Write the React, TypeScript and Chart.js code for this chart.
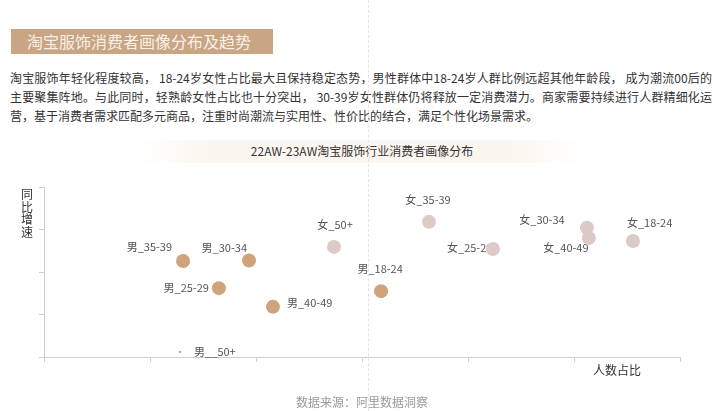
import React, { useEffect, useRef } from "react";
import { Chart, registerables } from "chart.js";

Chart.register(...registerables);

// ---- data ----
const maleLabels = ["男_35-39", "男_30-34", "男_25-29", "男__50+", "男_40-49", "男_18-24"];
const maleShare = [6.56, 9.67, 8.25, 6.42, 10.8, 15.9];
const maleGrowth = [22.6, 22.7, 16.2, 1.2, 11.8, 15.5];

const femaleLabels = ["女_50+", "女_35-39", "女_25-29", "女_30-34", "女_40-49", "女_18-24"];
const femaleShare = [13.68, 18.16, 21.18, 25.61, 25.7, 27.78];
const femaleGrowth = [25.9, 31.8, 25.4, 30.4, 28.0, 27.3];

const xTicks = { min: 0, max: 30, step: 5 };
const yTicks = { min: 0, max: 40, step: 10 };

const yAxisTitle = ["同", "比", "增", "速"];

// ---- label placement (style) ----
type Place = { align: CanvasTextAlign; dx: number; dy: number };
const malePlace: Place[] = [
  { align: "right", dx: -11, dy: -14 },
  { align: "right", dx: -2, dy: -13 },
  { align: "right", dx: -10, dy: 0 },
  { align: "left", dx: 14, dy: 0 },
  { align: "left", dx: 14, dy: -4 },
  { align: "center", dx: -1, dy: -22 },
];
const femalePlace: Place[] = [
  { align: "center", dx: 1, dy: -22 },
  { align: "center", dx: -1, dy: -22 },
  { align: "left", dx: -46, dy: -1 },
  { align: "center", dx: -45, dy: -8 },
  { align: "center", dx: -23, dy: 10 },
  { align: "left", dx: -6, dy: -18 },
];
const maleRadius = [7, 7, 7, 1.2, 7, 7];
const femaleRadius = [7, 7, 7, 7, 7, 7];

const FONT = '"Noto Sans CJK SC", "Noto Sans", sans-serif';

const labelPlugin = {
  id: "pointLabels",
  beforeDatasetsDraw(chart: any) {
    const ctx = chart.ctx;
    ctx.save();
    ctx.font = `11px ${FONT}`;
    ctx.fillStyle = "#555";
    ctx.textBaseline = "middle";
    const sets: [string[], Place[]][] = [
      [maleLabels, malePlace],
      [femaleLabels, femalePlace],
    ];
    sets.forEach(([labels, places], di) => {
      const meta = chart.getDatasetMeta(di);
      meta.data.forEach((pt: any, i: number) => {
        const p = places[i];
        ctx.textAlign = p.align;
        ctx.fillText(labels[i], pt.x + p.dx, pt.y + p.dy);
      });
    });
    ctx.restore();
  },
};

export default function App() {
  const ref = useRef<HTMLCanvasElement>(null);

  useEffect(() => {
    if (!ref.current) return;
    const axis = (t: { min: number; max: number; step: number }, fit: (s: any) => void) => ({
      type: "linear" as const,
      min: t.min,
      max: t.max,
      ticks: { stepSize: t.step, display: false },
      grid: { drawOnChartArea: false, drawTicks: true, tickLength: 5, color: "#cfcfcf" },
      border: { display: true, color: "#cfcfcf" },
      afterFit: fit,
    });
    const chart = new Chart(ref.current, {
      type: "scatter",
      data: {
        datasets: [
          {
            label: "男",
            data: maleShare.map((x, i) => ({ x, y: maleGrowth[i] })),
            backgroundColor: "#d0a47a",
            borderWidth: 0,
            pointRadius: maleRadius,
            pointHoverRadius: maleRadius,
          },
          {
            label: "女",
            data: femaleShare.map((x, i) => ({ x, y: femaleGrowth[i] })),
            backgroundColor: "#dccac7",
            borderWidth: 0,
            pointRadius: femaleRadius,
            pointHoverRadius: femaleRadius,
          },
        ],
      },
      options: {
        animation: false,
        responsive: false,
        devicePixelRatio: 1,
        layout: { padding: { top: 27, right: 40, left: 0, bottom: 0 } },
        plugins: { legend: { display: false }, tooltip: { enabled: false } },
        scales: {
          x: axis(xTicks, (s: any) => { s.height = 54; }),
          y: axis(yTicks, (s: any) => { s.width = 44; }),
        },
      },
      plugins: [labelPlugin],
    });
    return () => chart.destroy();
  }, []);

  const abs = (style: React.CSSProperties): React.CSSProperties => ({ position: "absolute", ...style });

  return (
    <div style={abs({ left: 0, top: 0, width: 720, height: 411, background: "#fff", overflow: "hidden", fontFamily: FONT })}>
      <div
        style={abs({
          left: 11, top: 29, width: 262, height: 25, background: "#c9a584", color: "#f8f0e6",
          fontSize: 16, lineHeight: "25px", paddingLeft: 16, boxSizing: "border-box",
        })}
      >
        淘宝服饰消费者画像分布及趋势
      </div>
      <div style={abs({ left: 10, top: 68, width: 702, fontSize: 12, lineHeight: "19px", color: "#333" })}>
        <div style={{ textAlign: "justify", textAlignLast: "justify", whiteSpace: "nowrap" as any }}>
          淘宝服饰年轻化程度较高， 18-24岁女性占比最大且保持稳定态势，男性群体中18-24岁人群比例远超其他年龄段， 成为潮流00后的
        </div>
        <div style={{ textAlign: "justify", textAlignLast: "justify", whiteSpace: "nowrap" as any }}>
          主要聚集阵地。与此同时，轻熟龄女性占比也十分突出， 30-39岁女性群体仍将释放一定消费潜力。商家需要持续进行人群精细化运
        </div>
        <div>营，基于消费者需求匹配多元商品，注重时尚潮流与实用性、性价比的结合，满足个性化场景需求。</div>
      </div>
      <div
        style={abs({
          left: 140, top: 140, width: 440, height: 23,
          background: "linear-gradient(to right, rgba(250,242,233,0), #fcf6f0 15%, #fcf6f0 85%, rgba(250,242,233,0))",
        })}
      />
      <div style={abs({ left: 140, top: 142, width: 444, textAlign: "center", fontSize: 12, lineHeight: "18px", color: "#333" })}>
        22AW-23AW淘宝服饰行业消费者画像分布
      </div>
      <canvas ref={ref} width={720} height={251} style={abs({ left: 0, top: 160, width: 720, height: 251 })} />
      <div style={abs({ left: 368, top: 0, width: 0, height: 411, borderLeft: "1px dashed #e4e4e4" })} />
      <div style={abs({ left: 19, top: 188, width: 16, fontSize: 12, lineHeight: "12.7px", color: "#333", textAlign: "center" })}>
        {yAxisTitle.map((c) => (
          <div key={c}>{c}</div>
        ))}
      </div>
      <div style={abs({ left: 577, top: 361, width: 80, textAlign: "center", fontSize: 12, lineHeight: "18px", color: "#333" })}>
        人数占比
      </div>
      <div style={abs({ left: 262, top: 393, width: 200, textAlign: "center", fontSize: 12, lineHeight: "18px", color: "#9a9a9a" })}>
        数据来源：阿里数据洞察
      </div>
    </div>
  );
}
